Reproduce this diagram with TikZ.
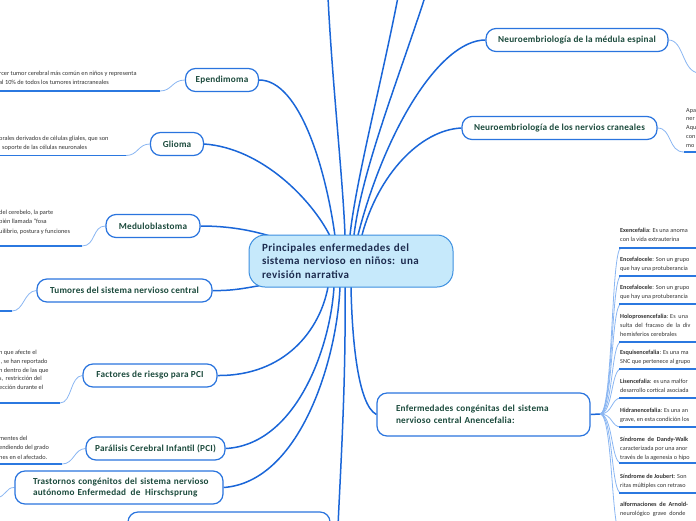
\documentclass[tikz,border=0pt]{standalone}
\usepackage{fontspec}
\setmainfont{Carlito}
\newfontfamily\brfont[LetterSpace=2.5]{Carlito}
\newfontfamily\ctrfont[LetterSpace=4]{Carlito}
\usetikzlibrary{backgrounds}
\definecolor{mainblue}{HTML}{1A66D8}
\definecolor{nodeborder}{HTML}{2A74DE}
\definecolor{thinblue}{HTML}{8AB6F2}
\definecolor{ulblue}{HTML}{2B78E0}
\definecolor{ctrfill}{HTML}{C6E9FB}
\definecolor{ctrborder}{HTML}{3C8FE0}
\definecolor{ctrtext}{HTML}{1C2B4E}
\definecolor{nodetext}{HTML}{1B4A3C}
\definecolor{leaftext}{HTML}{333333}
\begin{document}
\begin{tikzpicture}[x=1pt,y=-1pt,
  ctr/.style={draw=ctrborder, fill=ctrfill, line width=1pt, rounded corners=16pt,
    minimum width=204pt, minimum height=52pt, text width=178pt, align=left,
    inner sep=0pt, font=\ctrfont\bfseries\fontsize{11}{13.5}\selectfont, text=ctrtext},
  br/.style={draw=nodeborder, fill=white, line width=1.2pt, rounded corners=10pt,
    minimum height=23pt, inner sep=0pt, font=\brfont\bfseries\fontsize{9.2}{11.5}\selectfont, text=nodetext},
  conn/.style={draw=mainblue, line width=1.5pt},
  thin/.style={draw=thinblue, line width=0.8pt},
  uline/.style={draw=ulblue, line width=1.4pt},
  leaf/.style={anchor=north west, inner sep=0pt, align=left,
    font=\fontsize{6.3}{9.3}\selectfont, text=leaftext},
  rleaf/.style={anchor=north west, inner sep=0pt, align=left,
    font=\fontsize{6.2}{8.8}\selectfont, text=leaftext}
]
\useasboundingbox (0,0) rectangle (696,520);
\clip (0,0) rectangle (696,520);

% central node
\node[ctr] (center) at (351,261) {Principales enfermedades del\\sistema nervioso en niños: una\\revisión narrativa};

% branch nodes
\node[br, minimum width=73pt] (epen) at (222,80) {Ependimoma};
\node[br, minimum width=53pt] (glio) at (177,144) {Glioma};
\node[br, minimum width=94pt] (medu) at (153,226) {Meduloblastoma};
\node[br, minimum width=175pt] (tumo) at (124.5,290.5) {Tumores del sistema nervioso central};
\node[br, minimum width=134pt] (fact) at (150,375.5) {Factores de riesgo para PCI};
\node[br, minimum width=139pt] (pci) at (155.5,448.5) {Parálisis Cerebral Infantil (PCI)};
\node[br, minimum width=208pt, minimum height=33pt, text width=190pt, align=left] (tras) at (119,487.5)
  {\hspace*{9pt}Trastornos congénitos del sistema nervioso\\\hspace*{9pt}autónomo Enfermedad\, de\, Hirschsprung};
\node[br, minimum width=202pt, minimum height=36pt] (bott) at (229,530) {};
\node[br, minimum width=182pt] (medula) at (577,40) {Neuroembriología de la médula espinal};
\node[br, minimum width=195pt] (cran) at (559.5,128) {Neuroembriología de los nervios craneales};
\node[br, minimum width=213pt, minimum height=43pt, text width=175pt, align=left] (enf) at (483.5,414.5)
  {Enfermedades congénitas del sistema\\nervioso central Anencefalia:};

% leaf texts (left)
\node[leaf] (tEpen) at (-1,71) {rcer tumor cerebral más común en niños y representa\\al 10\% de todos los tumores intracraneales};
\node[leaf] (tGlio) at (-1,136) {orales derivados de células gliales, que son\\\hspace{3pt}soporte de las células neuronales};
\node[leaf] (tMedu) at (-1,210) {del cerebelo, la parte\\bién llamada “fosa\\uilibrio, postura y funciones};
\node[leaf, font=\fontsize{6.3}{8.8}\selectfont] (tFact) at (-1,350) {n que afecte el\\l, se han reportado\\n dentro de las que\\s,\, restricción del\\ección durante el};
\node[leaf] (tPci) at (-1,436) {mentes del\\endiendo del grado\\nes en el afectado.};
\node[rleaf] (tCran) at (686,108) {Apa\\ner\\Aqu\\con\\mo};

% leaf texts (right column)
\node[rleaf] (r1) at (620,228) {\textbf{Exencefalia}: Es una anoma\\con la vida extrauterina};
\node[rleaf] (r2) at (620,257) {\textbf{Encefalocele}: Son un grupo\\que hay una protuberancia};
\node[rleaf] (r3) at (620,285) {\textbf{Encefalocele}: Son un grupo\\que hay una protuberancia};
\node[rleaf] (r4) at (620,314) {\textbf{Holoprosencefalia}: Es\ \ una\\sulta\ \ del\ \ fracaso\ \ de\ \ la\ \ div\\hemisferios cerebrales};
\node[rleaf] (r5) at (620,350) {\textbf{Esquisencefalia}: Es una ma\\SNC que pertenece al grupo};
\node[rleaf] (r6) at (620,379) {\textbf{Lisencefalia}: es una malfor\\desarrollo cortical asociada};
\node[rleaf] (r7) at (620,408) {\textbf{Hidranencefalia}: Es una an\\grave, en esta condición los};
\node[rleaf] (r8) at (620,437) {\textbf{Síndrome\ \ de\ \ Dandy-Walk}\\caracterizada por una anor\\través de la agenesia o hipo};
\node[rleaf] (r9) at (620,474) {\textbf{Síndrome de Joubert}: Son\\ritas múltiples con retraso};
\node[rleaf] (r10) at (620,502) {\textbf{alformaciones\ \ de\ \ Arnold-}\\neurológico\ \ grave\ \ donde};

% coordinates on the centre border and free ends
\coordinate (cEp) at (335,236);
\coordinate (cGl) at (330,236);
\coordinate (cMe) at (270,236);
\coordinate (cTu) at (263,285);
\coordinate (cT1) at (345,235);
\coordinate (cT2) at (350,235);
\coordinate (cT3) at (354,235);
\coordinate (cMd) at (358,235);
\coordinate (cCr) at (362,235);
\coordinate (cFa) at (328,287);
\coordinate (cPc) at (334,287);
\coordinate (cTr) at (340,287);
\coordinate (cBo) at (345,287);
\coordinate (cEn) at (351,287);
\coordinate (top1) at (328,-3);
\coordinate (top2) at (398,-3);
\coordinate (top3) at (425,-3);
\coordinate (down1) at (338,526);
\coordinate (hub) at (600,414);

\begin{scope}[on background layer]
% main connectors
\draw[conn] (epen.east) .. controls (300,80) and (326,170) .. (cEp);
\draw[conn] (glio.east) .. controls (262,148) and (312,200) .. (cGl);
\draw[conn] (medu.east) .. controls (228,226) and (250,230) .. (cMe);
\draw[conn] (tumo.east) .. controls (232,291) and (246,288) .. (cTu);
\draw[conn] (top1) .. controls (332,80) and (343,180) .. (cT1);
\draw[conn] (top2) .. controls (382,80) and (356,180) .. (cT2);
\draw[conn] (top3) .. controls (398,80) and (362,170) .. (cT3);
\draw[conn] (medula.west) .. controls (440,40) and (385,130) .. (cMd);
\draw[conn] (cran.west) .. controls (420,130) and (378,175) .. (cCr);
\draw[conn] (fact.east) .. controls (285,376) and (320,330) .. (cFa);
\draw[conn] (pci.east) .. controls (295,445) and (330,350) .. (cPc);
\draw[conn] (tras.east) .. controls (300,482) and (337,360) .. (cTr);
\draw[conn] (cBo) .. controls (346,380) and (341,460) .. (down1);
\draw[conn] (enf.west) .. controls (358,405) and (352,340) .. (cEn);
\draw[conn] (enf.east) -- (hub);

% leaf connectors and underlines (left)
\draw[thin] (epen.west) .. controls (172,80) and (172,91) .. (160,91);
\draw[uline] (160,91) -- (-2,91);
\draw[thin] (glio.west) .. controls (138,144) and (138,155.5) .. (126,155.5);
\draw[uline] (126,155.5) -- (-2,155.5);
\draw[thin] (medu.west) .. controls (92,226) and (96,246) .. (82,246);
\draw[uline] (82,246) -- (-2,246);
\draw[thin] (tumo.west) .. controls (24,291) and (24,311) .. (12,311);
\draw[uline] (12,311) -- (-2,311);
\draw[thin] (fact.west) .. controls (70,376) and (72,403) .. (60,403);
\draw[uline] (60,403) -- (-2,403);
\draw[thin] (pci.west) .. controls (74,449) and (74,464) .. (62,464);
\draw[uline] (62,464) -- (-2,464);
\draw[thin] (tras.west) .. controls (6,487) and (6,497) .. (-4,498);

% leaf connectors (right)
\draw[thin] (medula.east) .. controls (684,40) and (682,72) .. (699,73);
\draw[thin] (cran.east) .. controls (672,128) and (668,152) .. (684,152);
\draw[uline] (684,152) -- (700,152);

% right column fan
\foreach \yy in {248,276,304,342,369,398,427,463,493,535}{
  \draw[thin] (hub) .. controls (613,414) and (611,\yy) .. (621,\yy);
  \draw[uline] (619,\yy) -- (700,\yy);
}
\end{scope}
\end{tikzpicture}
\end{document}
